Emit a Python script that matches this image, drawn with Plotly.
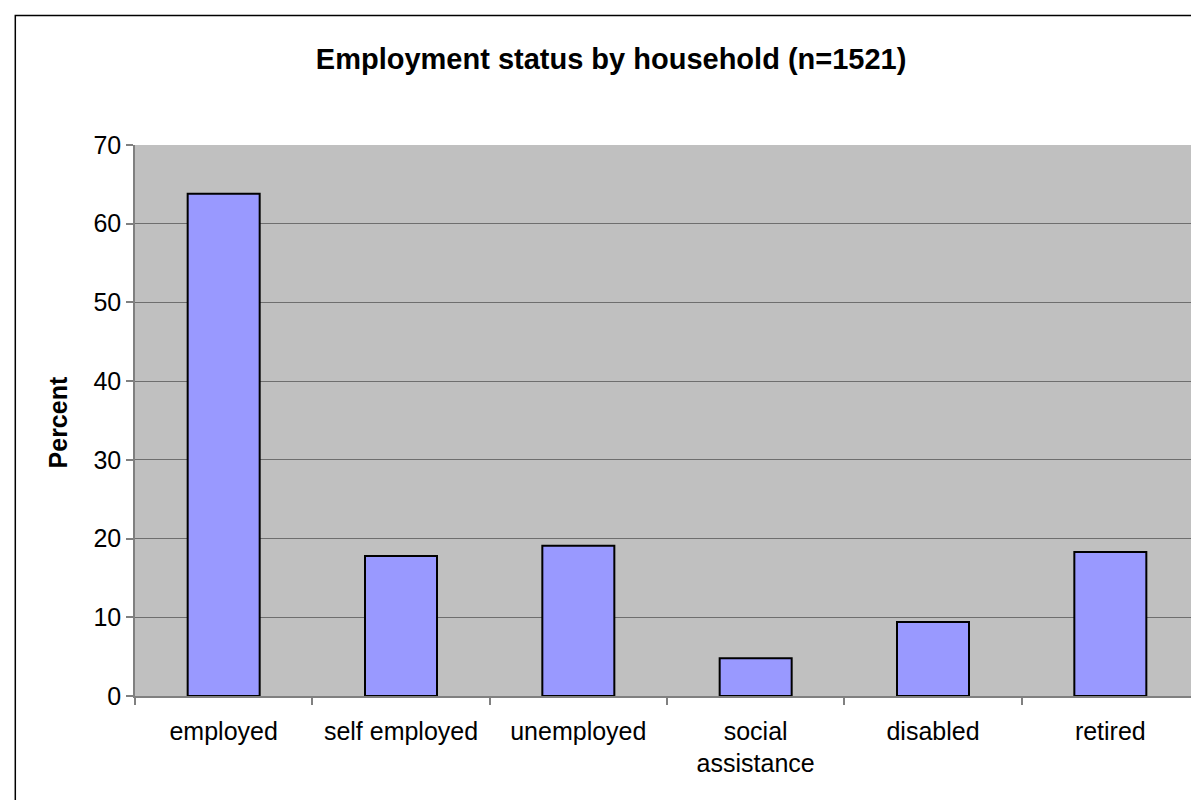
import plotly.graph_objects as go

categories = ["employed", "self employed", "unemployed", "social<br>assistance", "disabled", "retired"]
percent = [63.8, 17.8, 19.1, 4.8, 9.4, 18.3]
y_ticks = [0, 10, 20, 30, 40, 50, 60, 70]

FONT = "Liberation Sans, Arial, sans-serif"

fig = go.Figure()
fig.add_trace(go.Bar(
    x=categories,
    y=percent,
    marker=dict(color="#9999FF", line=dict(color="black", width=2)),
))

fig.update_layout(
    width=1199,
    height=800,
    margin=dict(l=127, r=8, t=137, b=112),
    paper_bgcolor="white",
    plot_bgcolor="#C0C0C0",
    bargap=0.594,
    showlegend=False,
    font=dict(family=FONT, color="black", size=25),
    title=dict(
        text="<b>Employment status by household (n=1521)</b>",
        x=0.503, xanchor="center",
        y=1 - 51 / 800, yanchor="middle",
        font=dict(family=FONT, size=29, color="black"),
    ),
)

fig.update_xaxes(
    type="category",
    showgrid=False,
    showline=True, linecolor="#808080", linewidth=1.5,
    ticks="outside", tickson="boundaries", ticklen=7, tickcolor="#808080", tickwidth=1.5,
    ticklabelstandoff=12,
    tickfont=dict(family=FONT, size=25, color="black"),
    mirror=False,
)
fig.update_yaxes(
    range=[0, 70],
    tickvals=y_ticks,
    showgrid=True, gridcolor="#6e6e6e", gridwidth=1.2,
    zeroline=False,
    showline=True, linecolor="#808080", linewidth=1.5,
    ticks="outside", ticklen=7, tickcolor="#808080", tickwidth=1.5,
    tickfont=dict(family=FONT, size=25, color="black"),
)

fig.add_annotation(
    text="<b>Percent</b>",
    xref="paper", yref="paper",
    x=(50 - 126.7) / 1064, y=0.497,
    xanchor="center", yanchor="middle",
    textangle=-90, showarrow=False,
    font=dict(family=FONT, size=25, color="black"),
)

# outer chart border
fig.add_shape(
    type="rect", xref="paper", yref="paper",
    x0=(7 - 126.7) / 1064, x1=(1198 - 126.7) / 1064,
    y0=(687.7 - 805) / 550.4, y1=(687.7 - 8) / 550.4,
    line=dict(color="black", width=1.5), fillcolor="rgba(0,0,0,0)", layer="below",
)

fig.write_html("out.html")
